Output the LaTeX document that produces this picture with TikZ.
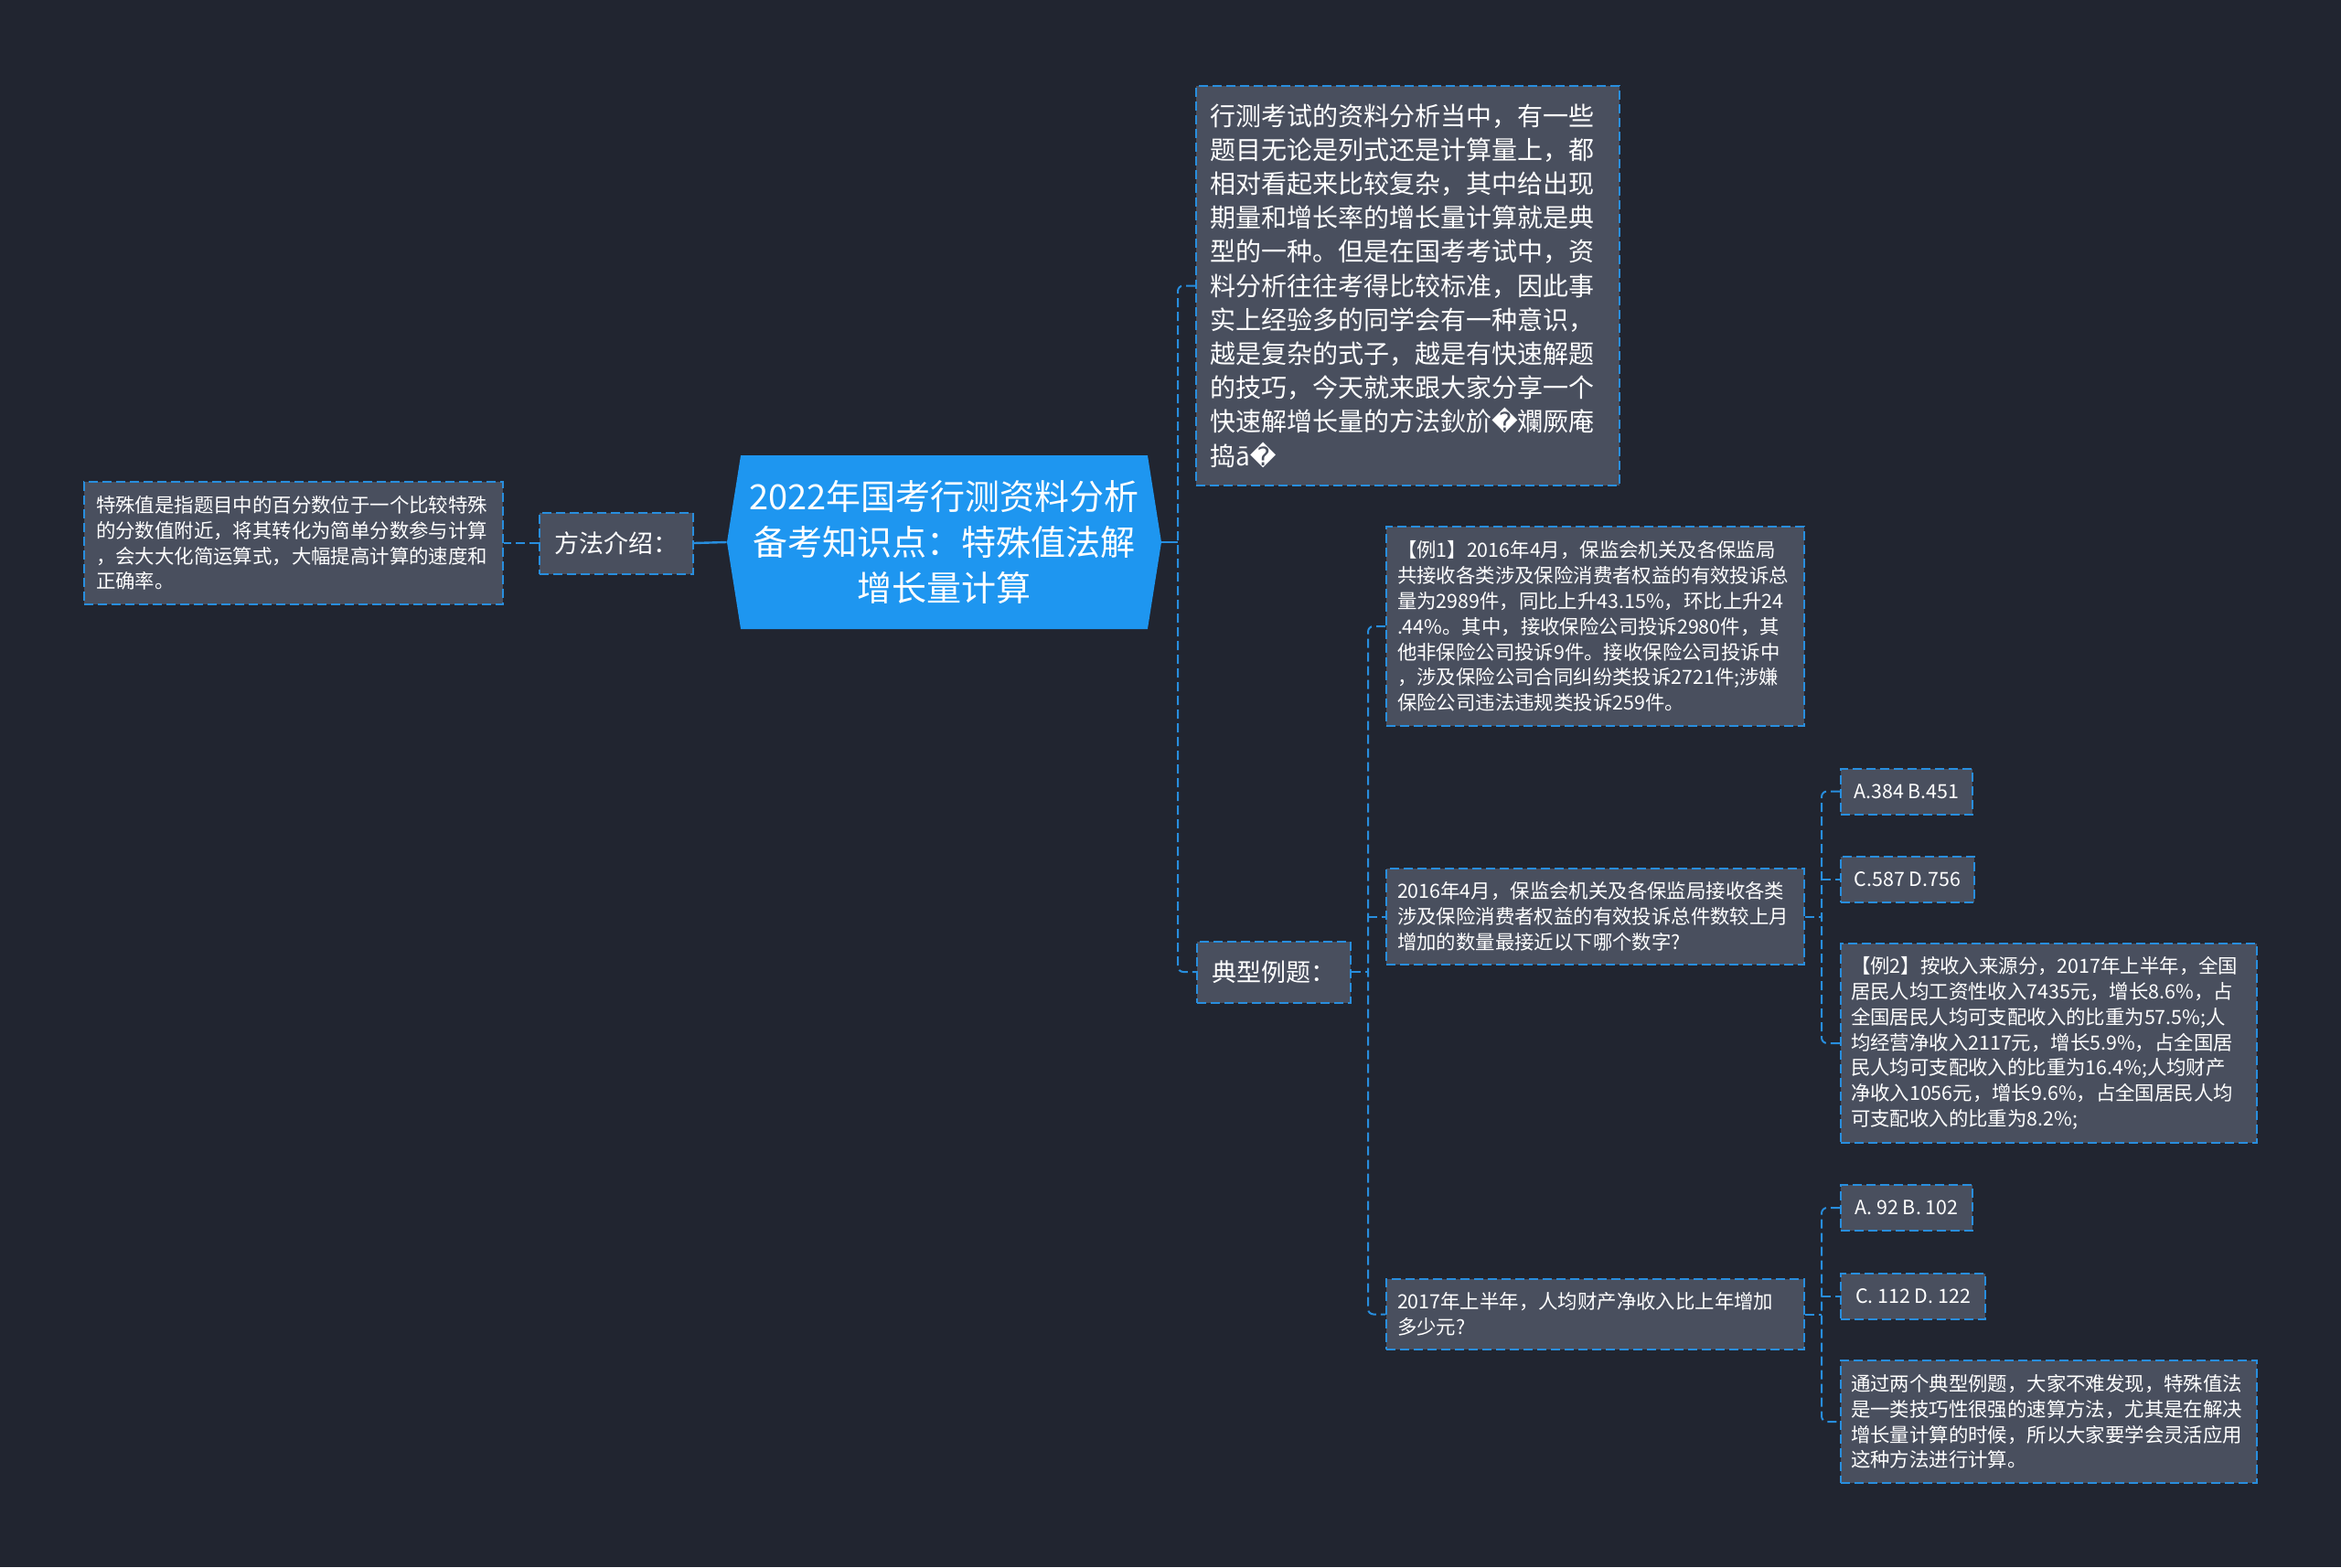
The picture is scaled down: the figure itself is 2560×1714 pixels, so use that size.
\documentclass[tikz,border=0pt]{standalone}
\usepackage{fontspec}
\setmainfont{Noto Sans CJK SC}
\newfontfamily\replfont{DejaVu Sans}
\usepackage{xcolor}
\usepackage{tikz}
\usetikzlibrary{positioning,shapes.symbols}

\definecolor{bgdark}{RGB}{33,37,48}
\definecolor{boxgray}{RGB}{73,79,94}
\definecolor{lineblue}{RGB}{40,142,222}
\definecolor{rootblue}{RGB}{30,150,240}

\newcommand{\badchar}{{\replfont\char"FFFD}}
\newcommand{\smallzh}{\fontsize{10.7pt}{13.9pt}\selectfont}
\newcommand{\midzh}{\fontsize{14pt}{18.6pt}\selectfont}
\newcommand{\headzh}{\fontsize{13.5pt}{16pt}\selectfont}
\newcommand{\rootzh}{\fontsize{19pt}{25pt}\selectfont}

\begin{document}
\begin{tikzpicture}[x=0.5pt, y=-0.5pt,
    box/.style={draw=lineblue, line width=1pt, dash pattern=on 5pt off 2.5pt,
        fill=boxgray, text=white, anchor=north west, inner sep=0pt},
    note/.style={box, align=left, font=\smallzh, inner xsep=6pt},
    choice/.style={box, font=\smallzh, minimum height=25pt},
    head/.style={box, font=\headzh, minimum width=84pt, minimum height=33.5pt},
    link/.style={lineblue, line width=1pt, dash pattern=on 5pt off 2.5pt},
    rootlink/.style={lineblue, line width=1.2pt}]
    \fill[bgdark] (0,0) rectangle (2560,1714);
    \useasboundingbox (0,0) rectangle (2560,1714);

    % centre topic
    \node[shape=signal, signal to=east and west, signal pointer angle=162,
        fill=rootblue, text=white, align=center, font=\rootzh, inner sep=0pt,
        minimum width=237.5pt, minimum height=95pt] (root) at (1032.5,593)
        {2022年国考行测资料分析\\备考知识点：特殊值法解\\增长量计算};

    % left side
    \node[head] (method) at (589,559.5) {方法介绍：};
    \node[note, text width=216pt, minimum height=67pt, inner xsep=6.5pt] (leftnote) at (91,526)
        {特殊值是指题目中的百分数位于一个比较特殊\\的分数值附近，将其转化为简单分数参与计算\\，会大大化简运算式，大幅提高计算的速度和\\正确率。};

    % right side
    \node[note, font=\midzh, text width=216.5pt, inner xsep=7.5pt, minimum height=218.5pt] (intro) at (1307,93)
        {行测考试的资料分析当中，有一些\\题目无论是列式还是计算量上，都\\相对看起来比较复杂，其中给出现\\期量和增长率的增长量计算就是典\\型的一种。但是在国考考试中，资\\料分析往往考得比较标准，因此事\\实上经验多的同学会有一种意识，\\越是复杂的式子，越是有快速解题\\的技巧，今天就来跟大家分享一个\\快速解增长量的方法鈥斺\badchar{}斕厥庵\\捣ā\badchar};
    \node[head] (examples) at (1308,1028.5) {典型例题：};

    % examples
    \node[note, text width=216.5pt, minimum height=109pt] (ex1) at (1515,575)
        {【例1】2016年4月，保监会机关及各保监局\\共接收各类涉及保险消费者权益的有效投诉总\\量为2989件，同比上升43.15\%，环比上升24\\.44\%。其中，接收保险公司投诉2980件，其\\他非保险公司投诉9件。接收保险公司投诉中\\，涉及保险公司合同纠纷类投诉2721件;涉嫌\\保险公司违法违规类投诉259件。};
    \node[note, text width=216.5pt, minimum height=52.5pt] (q1) at (1515,949)
        {2016年4月，保监会机关及各保监局接收各类\\涉及保险消费者权益的有效投诉总件数较上月\\增加的数量最接近以下哪个数字?};
    \node[note, text width=216.5pt, minimum height=38.5pt] (q2) at (1515,1398)
        {2017年上半年，人均财产净收入比上年增加\\多少元?};

    \node[choice, minimum width=72pt] (a1) at (2012,839.5) {A.384 B.451};
    \node[choice, minimum width=73pt] (c1) at (2012,935.5) {C.587 D.756};
    \node[note, text width=216.5pt, inner xsep=5.5pt, minimum height=109pt] (ex2) at (2012,1031)
        {【例2】按收入来源分，2017年上半年，全国\\居民人均工资性收入7435元，增长8.6\%，占\\全国居民人均可支配收入的比重为57.5\%;人\\均经营净收入2117元，增长5.9\%，占全国居\\民人均可支配收入的比重为16.4\%;人均财产\\净收入1056元，增长9.6\%，占全国居民人均\\可支配收入的比重为8.2\%;};

    \node[choice, minimum width=72pt] (a2) at (2012,1295) {A. 92 B. 102};
    \node[choice, minimum width=79pt] (c2) at (2012,1392) {C. 112 D. 122};
    \node[note, text width=216.5pt, inner xsep=5.5pt, minimum height=67pt] (sum) at (2012,1487)
        {通过两个典型例题，大家不难发现，特殊值法\\是一类技巧性很强的速算方法，尤其是在解决\\增长量计算的时候，所以大家要学会灵活应用\\这种方法进行计算。};

    % connectors
    \coordinate (busA) at (1288,0);
    \coordinate (busB) at (1496,0);
    \coordinate (busC) at (1992,0);

    \draw[rootlink] (root.west) -- (method.east);
    \draw[link] (method.west) -- (leftnote.east);
    \draw[rootlink] (root.east) -- (root.east -| busA);
    \draw[link, rounded corners=3pt] (intro.west) -- (intro.west -| busA) -- (examples.west -| busA) -- (examples.west);

    \draw[link] (examples.east) -- (examples.east -| busB);
    \draw[link, rounded corners=3pt] (ex1.west) -- (ex1.west -| busB) -- (q2.west -| busB) -- (q2.west);
    \draw[link] (q1.west -| busB) -- (q1.west);

    \foreach \p/\f/\m/\l in {q1/a1/c1/ex2, q2/a2/c2/sum} {
        \draw[link] (\p.east) -- (\p.east -| busC);
        \draw[link, rounded corners=3pt] (\f.west) -- (\f.west -| busC) -- (\l.west -| busC) -- (\l.west);
        \draw[link] (\m.west -| busC) -- (\m.west);
    }
\end{tikzpicture}
\end{document}
